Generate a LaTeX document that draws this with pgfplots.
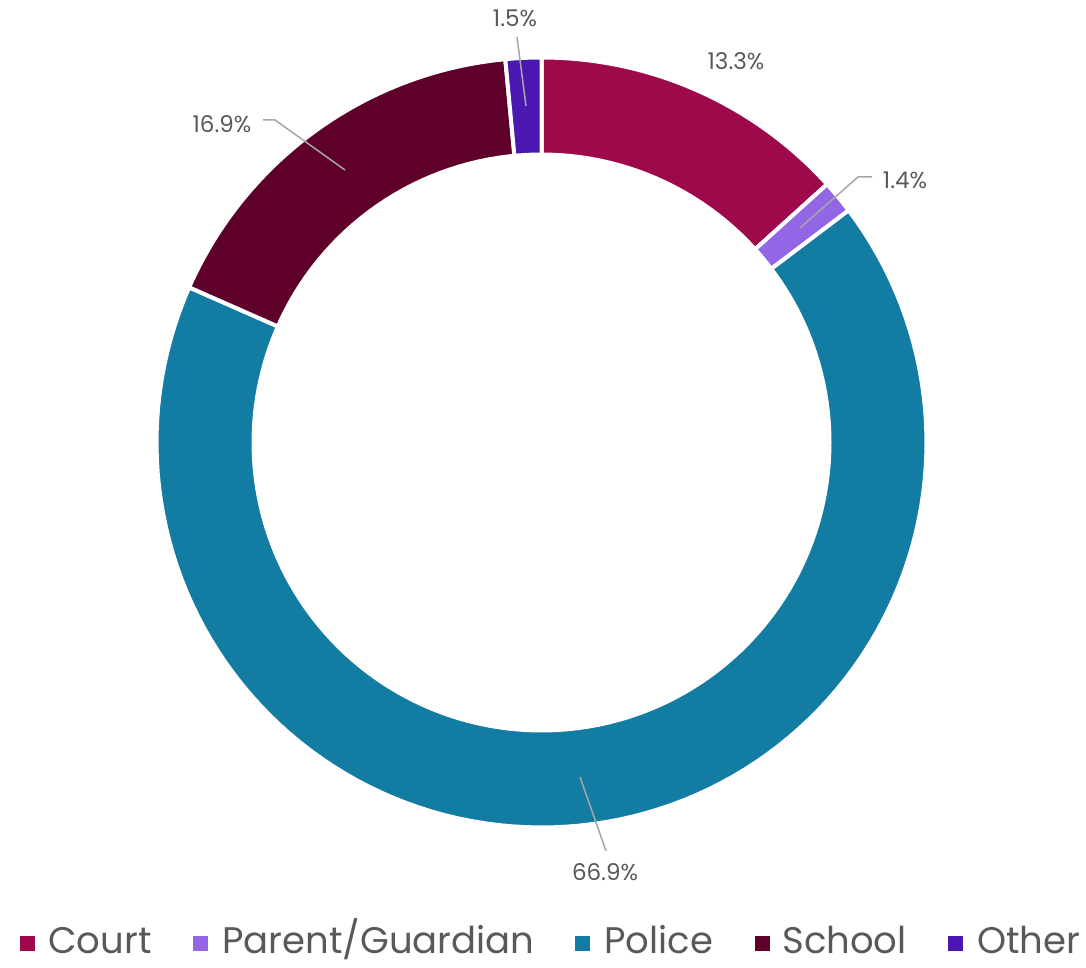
\documentclass[border=0pt]{standalone}
\usepackage{pgfplots}
\pgfplotsset{compat=1.18}
\usepackage{fontspec}
\setmainfont{Poppins}

\definecolor{court}{HTML}{9E094C}
\definecolor{parent}{HTML}{9366E6}
\definecolor{police}{HTML}{137CA3}
\definecolor{school}{HTML}{5E0029}
\definecolor{other}{HTML}{4A18B0}
\definecolor{txt}{HTML}{595959}
\definecolor{lead}{HTML}{A6A6A6}

% centre and radii in pixel units of the reference
\def\cx{541.5}
\def\cy{525.5}
\def\R{385}
\def\r{290}

\begin{document}
\begin{tikzpicture}
\path[use as bounding box] (0,0) rectangle (543pt,484pt);
\begin{axis}[
    width=543pt, height=484pt, scale only axis,
    xmin=0, xmax=1086, ymin=0, ymax=968,
    hide axis, clip=false,
]

% share of each source, clockwise from 12 o'clock
\def\cum{0}
\pgfplotsforeachungrouped \v/\c in {13.3/court, 1.4/parent, 66.9/police, 16.9/school, 1.5/other}{%
    \pgfmathsetmacro\a{90-3.6*\cum}%
    \pgfmathsetmacro\b{90-3.6*(\cum+\v)}%
    \pgfmathsetmacro\cum{\cum+\v}%
    \edef\temp{\noexpand\addplot[fill=\c, draw=white, line width=2pt,
        domain=\b:\a, samples=120, variable=\noexpand\t]
        ({\cx+\R*cos(\noexpand\t)},{\cy+\R*sin(\noexpand\t)})
        -- (axis cs:\cx,\cy) -- cycle;}%
    \temp
}

% hole
\addplot[fill=white, draw=none, domain=0:360, samples=180, variable=\t]
    ({\cx+\r*cos(\t)},{\cy+\r*sin(\t)}) -- cycle;

% data labels
\begin{scope}[every node/.style={font=\fontsize{11.5}{13}\selectfont, text=txt}]
\node at (axis cs:736,907) {13.3\%};
\node at (axis cs:905,788) {1.4\%};
\node at (axis cs:605,96) {66.9\%};
\node at (axis cs:222,844) {16.9\%};
\node at (axis cs:515,950) {1.5\%};
\end{scope}

\draw[lead, line width=0.75pt] (axis cs:517,931) -- (axis cs:526,862);
\draw[lead, line width=0.75pt] (axis cs:800,740) -- (axis cs:858,791) -- (axis cs:872,791);
\draw[lead, line width=0.75pt] (axis cs:263,848) -- (axis cs:275,848) -- (axis cs:345,798);
\draw[lead, line width=0.75pt] (axis cs:580,191) -- (axis cs:606,117);

% legend
\begin{scope}[every node/.style={font=\fontsize{18.5}{22}\selectfont, text=txt, anchor=base west, inner sep=0pt}]
\fill[court]  (axis cs:20,17)  rectangle (axis cs:35,32);
\node at (axis cs:48,14) {Court};
\fill[parent] (axis cs:193,17) rectangle (axis cs:208,32);
\node at (axis cs:222,14) {Parent/Guardian};
\fill[police] (axis cs:575,17) rectangle (axis cs:590,32);
\node at (axis cs:604,14) {Police};
\fill[school] (axis cs:755,17) rectangle (axis cs:770,32);
\node at (axis cs:782,14) {School};
\fill[other]  (axis cs:948,17) rectangle (axis cs:963,32);
\node at (axis cs:977,14) {Other};
\end{scope}

\end{axis}
\end{tikzpicture}
\end{document}
